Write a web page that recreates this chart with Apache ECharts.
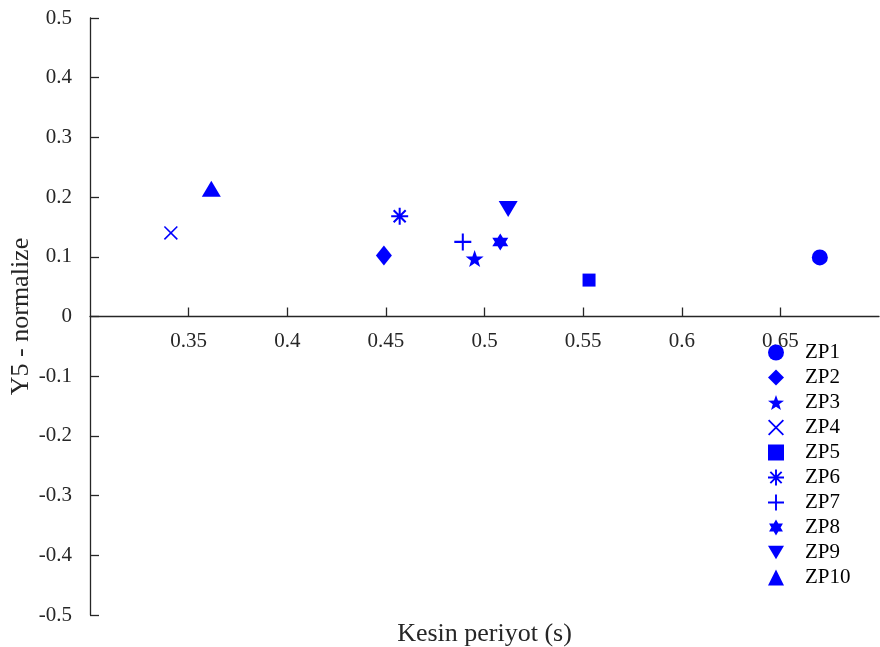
<!DOCTYPE html>
<html>
<head>
<meta charset="utf-8">
<script src="https://cdn.jsdelivr.net/npm/echarts@6/dist/echarts.min.js"></script>
<style>html,body{margin:0;padding:0;background:#fff;}#c{width:880px;height:647px;}</style>
</head>
<body>
<div id="c"></div>
<script>
// ---- data ----
var seriesNames = ['ZP1','ZP2','ZP3','ZP4','ZP5','ZP6','ZP7','ZP8','ZP9','ZP10'];
var periodValues = [0.670, 0.449, 0.495, 0.341, 0.553, 0.457, 0.489, 0.508, 0.512, 0.3615];
var y5Values     = [0.099, 0.102, 0.097, 0.140, 0.061, 0.168, 0.125, 0.125, 0.180, 0.214];
var xTickLabels = ['0.35','0.4','0.45','0.5','0.55','0.6','0.65'];
var yTickLabels = ['-0.5','-0.4','-0.3','-0.2','-0.1','0','0.1','0.2','0.3','0.4','0.5'];

// ---- symbol shapes ----
function bar(angleDeg, L, w) {
  var a = angleDeg * Math.PI / 180;
  var ux = Math.cos(a), uy = Math.sin(a), nx = -uy, ny = ux;
  var cx = 50, cy = 50;
  var pts = [
    [cx + ux*L + nx*w, cy + uy*L + ny*w],
    [cx + ux*L - nx*w, cy + uy*L - ny*w],
    [cx - ux*L - nx*w, cy - uy*L - ny*w],
    [cx - ux*L + nx*w, cy - uy*L + ny*w]
  ];
  return 'M' + pts.map(function(p){return p[0].toFixed(2)+' '+p[1].toFixed(2);}).join(' L') + ' Z ';
}
function star(n, rOut, rIn) {
  var s = '';
  for (var i = 0; i < 2*n; i++) {
    var r = i % 2 === 0 ? rOut : rIn;
    var a = -Math.PI/2 + i * Math.PI / n;
    s += (i === 0 ? 'M' : 'L') + (50 + r*Math.cos(a)).toFixed(2) + ' ' + (50 + r*Math.sin(a)).toFixed(2) + ' ';
  }
  return s + 'Z';
}
var shapes = {
  ZP1: {symbol: 'circle', size: 16},
  ZP2: {symbol: 'diamond', size: [16, 20]},
  ZP3: {symbol: 'path://' + star(5, 50, 20), size: [18, 17]},
  ZP4: {symbol: 'path://' + bar(45, 70.7, 6) + bar(-45, 70.7, 6), size: 14},
  ZP5: {symbol: 'rect', size: 13},
  ZP6: {symbol: 'path://' + bar(0, 50, 6) + bar(90, 50, 6) + bar(45, 50, 6) + bar(-45, 50, 6), size: 17},
  ZP7: {symbol: 'path://' + bar(0, 50, 6) + bar(90, 50, 6), size: 17},
  ZP8: {symbol: 'path://' + star(6, 50, 50/Math.sqrt(3)), size: [16, 17]},
  ZP9: {symbol: 'path://M0 0 L100 0 L50 84 Z', size: [19, 16]},
  ZP10:{symbol: 'triangle', size: [19, 16]}
};

var blue = '#0000FF';
var axisColor = '#262626';
var font = '"Liberation Serif","Times New Roman",serif';

var series = seriesNames.map(function(name, i){
  var sh = shapes[name];
  return {
    name: name,
    type: 'scatter',
    data: [[periodValues[i], y5Values[i]]],
    symbol: sh.symbol,
    symbolSize: sh.size,
    symbolKeepAspect: false,
    itemStyle: {color: blue, opacity: 1},
    emphasis: {disabled: true},
    animation: false
  };
});

var gridTop = 18, gridBottom = 32, H = 647;
var zeroShift = ((H - gridBottom) - gridTop) / 2; // distance from grid bottom to the y=0 line

var chart = echarts.init(document.getElementById('c'), null, {renderer: 'canvas'});
chart.setOption({
  backgroundColor: '#fff',
  animation: false,
  grid: {left: 90, right: 1, top: gridTop, bottom: gridBottom, containLabel: false, outerBoundsMode: 'none'},
  legend: {
    orient: 'vertical',
    left: 763,
    top: 337,
    itemWidth: 16,
    itemHeight: 16,
    itemGap: 4,
    data: seriesNames,
    textStyle: {fontFamily: font, fontSize: 21, color: '#000', padding: [0,0,0,16]},
    selectedMode: false
  },
  xAxis: {
    type: 'value',
    min: 0.3, max: 0.7, interval: 0.05,
    offset: -zeroShift,
    name: 'Kesin periyot (s)',
    nameLocation: 'middle',
    nameGap: 305,
    nameMoveOverlap: false,
    nameTextStyle: {fontFamily: font, fontSize: 26, color: axisColor},
    axisLine: {onZero: false, lineStyle: {color: axisColor, width: 1.3}},
    axisTick: {inside: true, length: 9, lineStyle: {color: axisColor, width: 1.3}},
    axisLabel: {
      showMinLabel: false, showMaxLabel: false,
      margin: 14, fontFamily: font, fontSize: 21, color: axisColor,
      formatter: function(v){
        var idx = Math.round((v - 0.35) / 0.05);
        return (idx >= 0 && idx < xTickLabels.length) ? xTickLabels[idx] : '';
      }
    },
    splitLine: {show: false}
  },
  yAxis: {
    type: 'value',
    min: -0.5, max: 0.5, interval: 0.1,
    name: 'Y5 - normalize',
    nameLocation: 'middle',
    nameGap: 56,
    nameRotate: 90,
    nameMoveOverlap: false,
    nameTextStyle: {fontFamily: font, fontSize: 26, color: axisColor},
    axisLine: {show: true, onZero: false, lineStyle: {color: axisColor, width: 1.3}},
    axisTick: {show: true, inside: true, length: 9, lineStyle: {color: axisColor, width: 1.3}},
    axisLabel: {
      margin: 18, fontFamily: font, fontSize: 21, color: axisColor,
      formatter: function(v){
        var idx = Math.round((v + 0.5) / 0.1);
        return yTickLabels[idx];
      }
    },
    splitLine: {show: false}
  },
  series: series
});
</script>
</body>
</html>
